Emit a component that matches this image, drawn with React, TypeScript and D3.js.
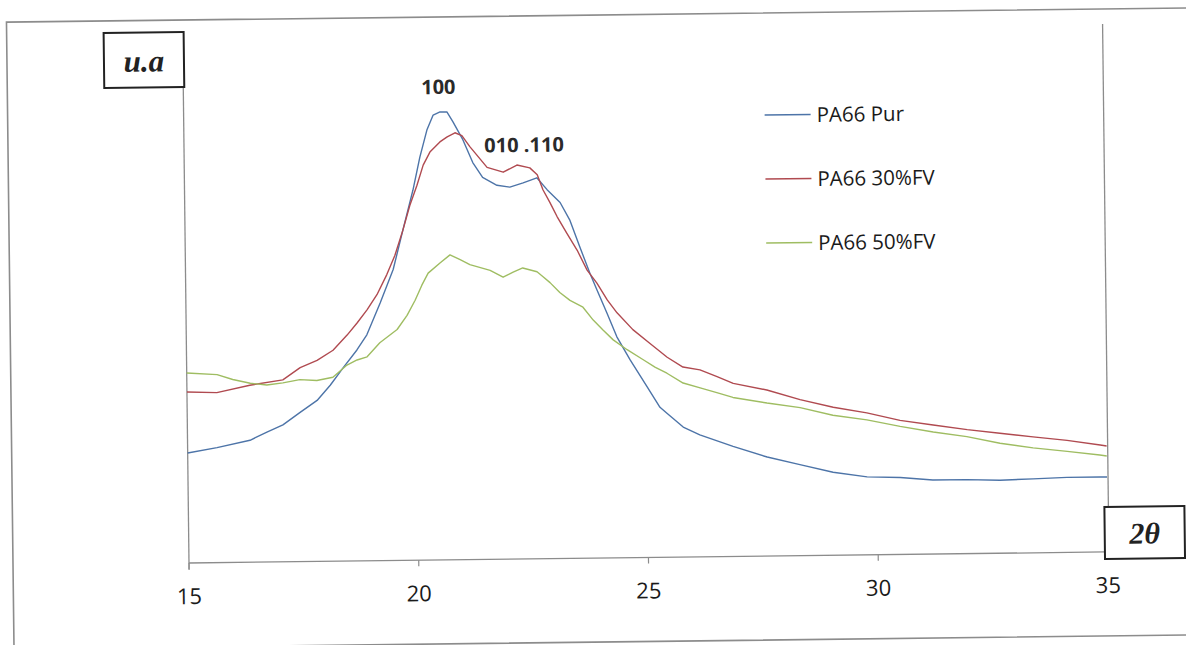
import React from "react";
import * as d3 from "d3";

// 2θ (degrees) vs intensity (arbitrary units)
const pa66Pur: [number, number][] = [
  [15.0, 110], [15.64, 115], [16.36, 122], [16.73, 130], [17.08, 137], [17.45, 149], [17.83, 161],
  [18.12, 176], [18.4, 193], [18.71, 211], [18.93, 226], [19.23, 258], [19.52, 291], [19.74, 330],
  [19.97, 370], [20.13, 403], [20.29, 430], [20.43, 445], [20.58, 448], [20.73, 448], [20.86, 438],
  [21.07, 420], [21.28, 397], [21.49, 382], [21.8, 374], [22.08, 372], [22.37, 376], [22.67, 381],
  [22.89, 369], [23.17, 356], [23.38, 338], [23.59, 311], [23.8, 285], [23.95, 268], [24.16, 245],
  [24.37, 221], [24.65, 198], [25.01, 171], [25.29, 150], [25.44, 144], [25.79, 130], [26.15, 122],
  [26.87, 110], [27.61, 99], [28.32, 91], [29.04, 83], [29.78, 78], [30.5, 77], [31.21, 74],
  [31.95, 74], [32.67, 73], [33.39, 74], [34.13, 75], [34.85, 75], [35.0, 75],
];

const pa66Fv30: [number, number][] = [
  [15.0, 171], [15.65, 170], [16.37, 177], [17.09, 182], [17.47, 194], [17.84, 201], [18.19, 211],
  [18.5, 226], [18.72, 238], [18.94, 251], [19.16, 266], [19.38, 286], [19.56, 305], [19.74, 330],
  [19.9, 355], [20.06, 375], [20.2, 395], [20.35, 408], [20.57, 418], [20.73, 423], [20.9, 427],
  [21.05, 424], [21.22, 413], [21.59, 392], [21.94, 387], [22.24, 394], [22.52, 391], [22.68, 384],
  [22.8, 369], [22.95, 356], [23.1, 342], [23.31, 325], [23.53, 308], [23.74, 288], [23.95, 275],
  [24.17, 258], [24.38, 245], [24.72, 228], [25.09, 214], [25.46, 200], [25.8, 190], [26.17, 187],
  [26.54, 180], [26.89, 173], [27.62, 166], [28.34, 156], [29.06, 148], [29.79, 142], [30.51, 134],
  [31.23, 129], [31.97, 124], [32.68, 120], [33.4, 116], [34.14, 112], [34.86, 107], [35.0, 106],
];

const pa66Fv50: [number, number][] = [
  [15.0, 190], [15.66, 188], [16.0, 183], [16.38, 179], [16.74, 177], [17.09, 179], [17.46, 182],
  [17.83, 181], [18.18, 184], [18.49, 196], [18.71, 201], [18.93, 204], [19.21, 218], [19.59, 231],
  [19.81, 245], [19.99, 260], [20.14, 275], [20.28, 287], [20.54, 297], [20.76, 305], [20.98, 300],
  [21.19, 295], [21.63, 289], [21.91, 282], [22.13, 287], [22.34, 291], [22.65, 287], [22.78, 282],
  [22.93, 276], [23.14, 266], [23.36, 258], [23.64, 251], [23.86, 238], [24.07, 228], [24.29, 218],
  [24.59, 208], [24.93, 198], [25.2, 190], [25.45, 184], [25.8, 174], [26.17, 169], [26.53, 164],
  [26.88, 159], [27.62, 153], [28.34, 148], [29.05, 140], [29.79, 135], [30.51, 128], [31.23, 122],
  [31.96, 117], [32.68, 110], [33.4, 105], [34.14, 101], [34.85, 97], [35.0, 96],
];

const seriesNames = ["PA66 Pur", "PA66 30%FV", "PA66 50%FV"];
const seriesColors = ["#4d74a8", "#b04a50", "#9fbd62"];
const seriesData = [pa66Pur, pa66Fv30, pa66Fv50];
const xTicks = [15, 20, 25, 30, 35];
const peakLabels = [
  { text: "100", x: 20.55, y: 466 },
  { text: "010 .110", x: 22.4, y: 407 },
];

export default function App() {
  const W = 1186;
  const H = 645;
  const x = d3.scaleLinear().domain([15, 35]).range([189, 1108]);
  const y = d3.scaleLinear().domain([0, 528]).range([563, 35]);
  const line = d3
    .line<[number, number]>()
    .x((d) => x(d[0]))
    .y((d) => y(d[1]))
    .curve(d3.curveLinear);

  const x0 = x(15);
  const y0 = y(0);

  return (
    <svg
      width={W}
      height={H}
      style={{ position: "absolute", left: 0, top: 0, background: "#fff" }}
    >
      <rect x={0} y={0} width={W} height={H} fill="#fff" />
      <g transform={`rotate(-0.69, ${x0}, ${y0})`}>
        {/* outer frame */}
        <rect x={13} y={20} width={1190} height={627} fill="none" stroke="#8c8c8c" strokeWidth={1.6} />

        {/* right vertical line */}
        <line x1={1109} x2={1109} y1={35} y2={518} stroke="#8c8c8c" strokeWidth={1.3} />

        {/* axes */}
        <line x1={x0} x2={x0} y1={87} y2={y0 + 7} stroke="#8c8c8c" strokeWidth={1.3} />
        <line x1={x0} x2={1105} y1={y0} y2={y0} stroke="#8c8c8c" strokeWidth={1.3} />
        {xTicks.map((t) => (
          <g key={t}>
            <line x1={x(t)} x2={x(t)} y1={y0} y2={y0 + 6} stroke="#8c8c8c" strokeWidth={1.2} />
            <text
              x={x(t)}
              y={604}
              textAnchor="middle"
              fontFamily="'Open Sans', sans-serif"
              fontSize={22}
              fill="#1a1a1a"
            >
              {t}
            </text>
          </g>
        ))}

        {/* series */}
        {seriesData.map((d, i) => (
          <path
            key={seriesNames[i]}
            d={line(d) ?? ""}
            fill="none"
            stroke={seriesColors[i]}
            strokeWidth={1.4}
            strokeLinejoin="round"
          />
        ))}

        {/* peak labels */}
        {peakLabels.map((p) => (
          <text
            key={p.text}
            x={x(p.x)}
            y={y(p.y)}
            textAnchor="middle"
            fontFamily="'Open Sans', sans-serif"
            fontWeight="bold"
            fontSize={20}
            fill="#2a2a2a"
          >
            {p.text}
          </text>
        ))}

        {/* legend */}
        {seriesNames.map((n, i) => (
          <g key={n} transform={`translate(770, ${122 + i * 64})`}>
            <line x1={0} x2={46} y1={0} y2={0} stroke={seriesColors[i]} strokeWidth={1.4} />
            <text
              x={52}
              y={7.5}
              fontFamily="'Open Sans', sans-serif"
              fontSize={20.5}
              fill="#1a1a1a"
            >
              {n}
            </text>
          </g>
        ))}

        {/* axis title boxes */}
        <rect x={110} y={32} width={80} height={55} fill="#fff" stroke="#222" strokeWidth={2} />
        <text
          x={150}
          y={71}
          textAnchor="middle"
          fontFamily="'Liberation Serif', serif"
          fontWeight="bold"
          fontStyle="italic"
          fontSize={31}
          fill="#222"
        >
          u.a
        </text>
        <rect x={1105} y={518} width={80} height={52} fill="#fff" stroke="#222" strokeWidth={2} />
        <text
          x={1145}
          y={555}
          textAnchor="middle"
          fontFamily="'Liberation Serif', serif"
          fontWeight="bold"
          fontStyle="italic"
          fontSize={30}
          fill="#222"
        >
          2θ
        </text>
      </g>
    </svg>
  );
}
